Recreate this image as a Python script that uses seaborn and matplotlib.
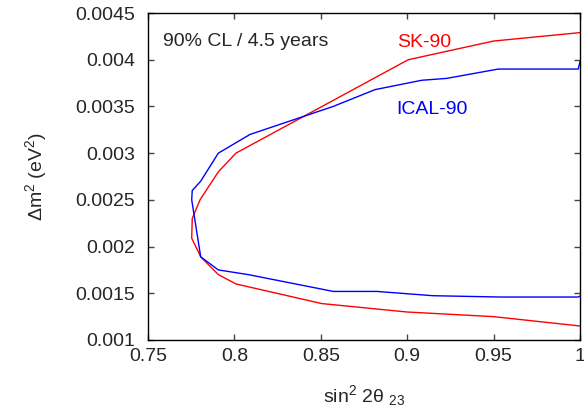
import pandas as pd
import seaborn as sns
import matplotlib
matplotlib.use("Agg")
from matplotlib import pyplot as plt
from matplotlib.ticker import FuncFormatter

# SK-90 contour (sin^2 2theta_23, dm^2)
sk_x = [1.0, 0.95, 0.9006, 0.8009, 0.7907, 0.7801, 0.7756, 0.7753, 0.7805,
        0.7907, 0.8009, 0.8505, 0.8997, 0.95, 1.0]
sk_y = [0.00429, 0.0042, 0.0040, 0.0030, 0.0028, 0.0025, 0.0023, 0.00209,
        0.00189, 0.0017, 0.0016, 0.00139, 0.0013, 0.00125, 0.00115]

# ICAL-90 contour
ical_x = [1.0, 0.999, 0.9527, 0.9228, 0.9084, 0.8814, 0.8572, 0.809, 0.7907,
          0.7805, 0.7756, 0.7753, 0.7805, 0.7907, 0.808, 0.8572, 0.8823,
          0.915, 0.9537, 0.999, 1.0]
ical_y = [0.00398, 0.0039, 0.0039, 0.0038, 0.00378, 0.00368, 0.0035, 0.0032,
          0.0030, 0.0027, 0.0026, 0.0025, 0.00189, 0.00175, 0.0017, 0.00152,
          0.00152, 0.001474, 0.00146, 0.00146, 0.00147]

x_ticks = [0.75, 0.8, 0.85, 0.9, 0.95, 1.0]
y_ticks = [0.001, 0.0015, 0.002, 0.0025, 0.003, 0.0035, 0.004, 0.0045]

sk = pd.DataFrame({"s": sk_x, "dm": sk_y})
ical = pd.DataFrame({"s": ical_x, "dm": ical_y})

sns.set_style("ticks")
plt.rcParams["font.family"] = ["Liberation Sans", "DejaVu Sans"]
plt.rcParams["mathtext.fontset"] = "custom"
plt.rcParams["mathtext.rm"] = "Liberation Sans"
plt.rcParams["mathtext.it"] = "Liberation Sans"
plt.rcParams["mathtext.default"] = "regular"

fig = plt.figure(figsize=(5.84, 4.12), dpi=100)
ax = fig.add_axes([148 / 584, 72 / 412, 432 / 584, 327 / 412])

# contours are closed-ish paths, so keep point order and no aggregation
sns.lineplot(data=sk, x="s", y="dm", sort=False, estimator=None, errorbar=None,
             color="red", lw=1.0, ax=ax)
sns.lineplot(data=ical, x="s", y="dm", sort=False, estimator=None, errorbar=None,
             color="blue", lw=1.0, ax=ax)

ax.set_xlim(0.75, 1.0)
ax.set_ylim(0.001, 0.0045)
ax.set_xticks(x_ticks)
ax.set_yticks(y_ticks)
fmt = FuncFormatter(lambda v, p: f"{v:g}")
ax.xaxis.set_major_formatter(fmt)
ax.yaxis.set_major_formatter(fmt)
ax.tick_params(direction="in", length=4, width=1, labelsize=14,
               top=True, right=True, color="#444444")
ax.tick_params(axis="x", pad=6)
ax.tick_params(axis="y", pad=9)
for sp in ax.spines.values():
    sp.set_linewidth(1.0)
    sp.set_color("black")

ax.set_xlabel(r"sin$^2$ 2θ $_{23}$", fontsize=14, labelpad=13)
ax.set_ylabel(r"Δm$^2$ (eV$^2$)", fontsize=14, labelpad=19)

ax.text(0.7587, 0.00419, "90% CL / 4.5 years", fontsize=14, va="center")
ax.text(0.8939, 0.00418, "SK-90", fontsize=14, va="center", color="red")
ax.text(0.8939, 0.00347, "ICAL-90", fontsize=14, va="center", color="blue")

fig.savefig("out.png", dpi=100)
